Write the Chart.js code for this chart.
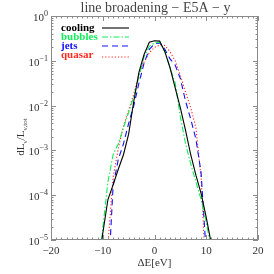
<!DOCTYPE html>
<html>
<head>
<meta charset="utf-8">
<script src="https://cdn.jsdelivr.net/npm/chart.js@4/dist/chart.umd.min.js"></script>
<style>
  html, body { margin: 0; padding: 0; background: #fff; }
  #wrap { width: 274px; height: 274px; }
</style>
</head>
<body>
<div id="wrap"><canvas id="chart" width="274" height="274"></canvas></div>
<script>
// energy offset grid (eV)
const energy = [-11, -10, -9, -8, -7, -6, -5, -4, -3, -2, -1, 0, 1, 2, 3, 4, 5, 6, 7, 8, 9, 10, 11];

// dL/L_tot per model
const cooling = [2e-6, 1.4e-5, 8e-5, 1.7e-4, 3.8e-4, 8e-4, 2.3e-3, 0.0125, 0.056, 0.14, 0.26, 0.28, 0.275,
  0.16, 0.07, 0.025, 8.9e-3, 2.8e-3, 8e-4, 2.8e-4, 1.1e-4, 3.2e-5, 8e-6];
const bubbles = [1e-6, 1.8e-5, 2e-4, 8e-4, 1.4e-3, 3.2e-3, 7e-3, 0.016, 0.045, 0.125, 0.21, 0.25, 0.26,
  0.16, 0.07, 0.032, 5.6e-3, 1.4e-3, 5e-4, 2e-4, 8e-5, 2.5e-5, 6e-6];
const jets = [1e-7, 1e-7, 1e-6, 1.6e-4, 6.3e-4, 1.4e-3, 4e-3, 0.01, 0.032, 0.09, 0.18, 0.24, 0.25,
  0.18, 0.11, 0.08, 0.04, 0.0126, 5e-3, 1.8e-3, 3.2e-4, 5e-6, 1e-7];
const quasar = [1e-7, 1e-6, 8e-6, 2.5e-4, 1.1e-3, 3.5e-3, 8e-3, 0.018, 0.05, 0.095, 0.15, 0.2, 0.225,
  0.22, 0.16, 0.1, 0.047, 0.02, 8.9e-3, 3.2e-3, 2.5e-4, 1e-6, 1e-7];

const seriesNames = ['cooling', 'bubbles', 'jets', 'quasar'];
const xTicks = [-20, -10, 0, 10, 20];
const yTicks = [1e-5, 1e-4, 1e-3, 1e-2, 1e-1, 1];
const yExponents = ['-5', '-4', '-3', '-2', '-1', '0'];

const COLORS = { cooling: '#000000', bubbles: '#10ee5a', jets: '#1010ff', quasar: '#ff2a20' };
const DASHES = { cooling: [], bubbles: [6, 2, 1.5, 2], jets: [6, 4], quasar: [1.2, 2] };
const AXIS = '#8a8a8a';
const SERIF = '"Liberation Serif", "DejaVu Serif", serif';

function toPoints(ys) {
  return energy.map((e, i) => ({ x: e, y: ys[i] }));
}

function makeSet(name, ys) {
  return {
    label: name,
    data: toPoints(ys),
    borderColor: COLORS[name],
    borderWidth: 1.1,
    borderDash: DASHES[name],
    pointRadius: 0,
    tension: 0,
    fill: false,
  };
}

const idlDecor = {
  id: 'idlDecor',
  afterDraw(chart) {
    const { ctx, chartArea: a, scales } = chart;
    const xs = scales.x, ys = scales.y;
    ctx.save();

    // frame
    ctx.strokeStyle = AXIS;
    ctx.lineWidth = 1;
    ctx.setLineDash([]);
    ctx.strokeRect(a.left + 0.5, a.top + 0.5, a.right - a.left - 1, a.bottom - a.top - 1);

    // x ticks (inward, bottom + top)
    ctx.beginPath();
    for (let v = -20; v <= 20; v++) {
      const px = Math.round(xs.getPixelForValue(v)) + 0.5;
      const len = v % 10 === 0 ? 5 : 2.5;
      ctx.moveTo(px, a.bottom); ctx.lineTo(px, a.bottom - len);
      ctx.moveTo(px, a.top); ctx.lineTo(px, a.top + len);
    }
    // y ticks (inward, left + right)
    for (let d = -5; d <= 0; d++) {
      for (let m = 1; m <= 9; m++) {
        const v = m * Math.pow(10, d);
        if (v > 1.0001) break;
        const py = Math.round(ys.getPixelForValue(v)) + 0.5;
        const len = m === 1 ? 5 : 2.5;
        ctx.moveTo(a.left, py); ctx.lineTo(a.left + len, py);
        ctx.moveTo(a.right, py); ctx.lineTo(a.right - len, py);
      }
    }
    ctx.stroke();

    // y tick labels: 10 with superscript exponent
    ctx.fillStyle = '#333';
    ctx.textBaseline = 'alphabetic';
    yTicks.forEach((v, i) => {
      const py = ys.getPixelForValue(v);
      const exp = yExponents[i].replace('-', '\u2212');
      ctx.font = '8px ' + SERIF;
      ctx.textAlign = 'right';
      const ew = ctx.measureText(exp).width;
      ctx.fillText(exp, a.left - 3, py + 0);
      ctx.font = '11px ' + SERIF;
      ctx.fillText('10', a.left - 3 - ew, py + 5);
    });

    // title
    ctx.textAlign = 'center';
    ctx.font = '14px ' + SERIF;
    ctx.fillStyle = '#444';
    ctx.fillText('line broadening \u2212 E5A \u2212 y', (a.left + a.right) / 2 + 1, 12);

    // x title
    ctx.fillStyle = '#333';
    ctx.font = '11px ' + SERIF;
    ctx.fillText('\u0394E[eV]', (a.left + a.right) / 2, 266);

    // y title: dL_nu / L_nu,tot, rotated
    ctx.save();
    ctx.translate(24, 137);
    ctx.rotate(-Math.PI / 2);
    const parts = [
      ['dL', 11, 0], ['\u03bd', 7, 3], ['/L', 11, 0], ['\u03bd,tot', 7, 3],
    ];
    let total = 0;
    parts.forEach(([t, s]) => { ctx.font = s + 'px ' + SERIF; total += ctx.measureText(t).width; });
    let cx = -total / 2;
    ctx.textAlign = 'left';
    parts.forEach(([t, s, dy]) => {
      ctx.font = s + 'px ' + SERIF;
      ctx.fillText(t, cx, dy);
      cx += ctx.measureText(t).width;
    });
    ctx.restore();

    // legend
    ctx.textAlign = 'left';
    ctx.font = 'bold 11px ' + SERIF;
    seriesNames.forEach((name, i) => {
      const y = 28 + i * 9;
      ctx.fillStyle = COLORS[name];
      ctx.fillText(name, 61, y + 3);
      ctx.strokeStyle = COLORS[name];
      ctx.lineWidth = 1.1;
      ctx.setLineDash(DASHES[name]);
      ctx.beginPath();
      ctx.moveTo(102, y + (name === 'quasar' ? 2 : 0));
      ctx.lineTo(129, y + (name === 'quasar' ? 2 : 0));
      ctx.stroke();
    });

    ctx.restore();
  },
};

new Chart(document.getElementById('chart'), {
  type: 'line',
  data: {
    datasets: [
      makeSet('cooling', cooling),
      makeSet('bubbles', bubbles),
      makeSet('jets', jets),
      makeSet('quasar', quasar),
    ],
  },
  options: {
    responsive: false,
    devicePixelRatio: 1,
    animation: false,
    layout: { padding: { left: 0, right: 16, top: 16, bottom: 0 } },
    plugins: { legend: { display: false }, tooltip: { enabled: false } },
    scales: {
      x: {
        type: 'linear',
        min: -20,
        max: 20,
        afterBuildTicks(s) { s.ticks = xTicks.map((v) => ({ value: v })); },
        afterFit(s) { s.height = 34; },
        grid: { display: false, drawTicks: false },
        border: { display: false },
        ticks: {
          color: '#333',
          padding: 5,
          maxRotation: 0,
          font: { family: SERIF, size: 11 },
          callback: (v) => (v < 0 ? '\u2212' + Math.abs(v) : String(v)),
        },
      },
      y: {
        type: 'logarithmic',
        min: 1e-5,
        max: 1,
        afterBuildTicks(s) { s.ticks = yTicks.map((v) => ({ value: v })); },
        afterFit(s) { s.width = 51; },
        grid: { display: false, drawTicks: false },
        border: { display: false },
        ticks: { display: false },
      },
    },
  },
  plugins: [idlDecor],
});
</script>
</body>
</html>
